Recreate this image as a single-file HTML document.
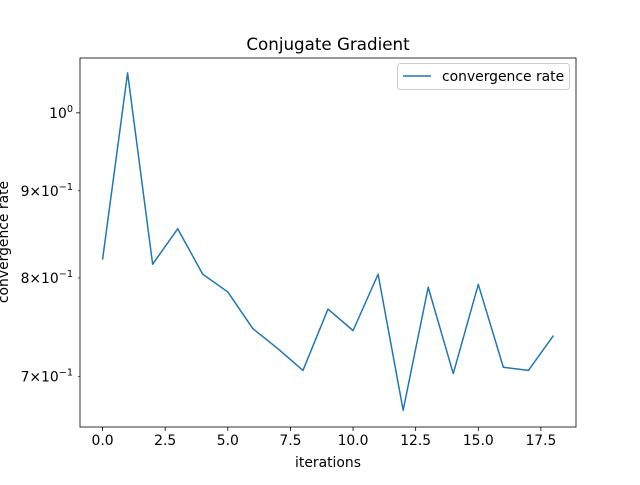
<!DOCTYPE html>
<html><head><meta charset="utf-8"><style>
body{margin:0;background:#fff;}
svg{font-family:"DejaVu Sans","Liberation Sans",sans-serif;}
</style></head><body>
<svg id="c" width="640" height="480" xmlns="http://www.w3.org/2000/svg">
<rect width="640" height="480" fill="#fff"/>
</svg>
<script>
const iterations=[0,1,2,3,4,5,6,7,8,9,10,11,12,13,14,15,16,17,18];
const rates=[0.820,1.0555,0.815,0.855,0.804,0.785,0.747,0.727,0.706,0.767,0.745,0.804,0.669,0.790,0.703,0.793,0.709,0.706,0.740];
const xTicks=[0,2.5,5,7.5,10,12.5,15,17.5];
const xTickLabels=["0.0","2.5","5.0","7.5","10.0","12.5","15.0","17.5"];
const yTicks=[1.0,0.9,0.8,0.7];
const yTickMant=["","9","8","7"];
const L=80,R=576,T=58,B=427;
const xmin=-0.9,xmax=18.9,ymin=0.654,ymax=1.077;
const sx=v=>L+(v-xmin)/(xmax-xmin)*(R-L);
const sy=v=>B-(Math.log10(v)-Math.log10(ymin))/(Math.log10(ymax)-Math.log10(ymin))*(B-T);
const svg=document.getElementById('c');
const NS='http://www.w3.org/2000/svg';
function mk(tag,attrs,parent){const e=document.createElementNS(NS,tag);for(const k in attrs)e.setAttribute(k,attrs[k]);(parent||svg).appendChild(e);return e;}
let t=mk('text',{x:328,y:50,'text-anchor':'middle','font-size':16.7,fill:'#000'});t.textContent='Conjugate Gradient';


xTicks.forEach((v,i)=>{const x=sx(v);
const l=mk('line',{x1:x,x2:x,y1:B,y2:B+4,stroke:'#000','stroke-width':0.8});


const tx=mk('text',{x:x,y:B+18,'text-anchor':'middle','font-size':13.9});tx.textContent=xTickLabels[i];

});
yTicks.forEach((v,i)=>{const y=sy(v);
const major=i===0;
const l=mk('line',{x1:L,x2:L-(major?4:2),y1:y,y2:y,stroke:'#000','stroke-width':major?0.8:0.6});


const tx=mk('text',{x:L-7,y:y+5,'text-anchor':'end','font-size':13.9});
if(major){tx.innerHTML='10<tspan dy="-6" font-size="9.7">0</tspan>';}
else{tx.innerHTML=yTickMant[i]+'\u00d710<tspan dy="-6" font-size="9.7">\u22121</tspan>';}

});
t=mk('text',{x:328,y:467,'text-anchor':'middle','font-size':13.9});t.textContent='iterations';


t=mk('text',{x:0,y:0,'text-anchor':'middle','font-size':13.9,transform:'translate(8,242) rotate(-90)'});t.textContent='convergence rate';


const p=mk('polyline',{points:iterations.map((v,i)=>sx(v)+','+sy(rates[i])).join(' '),fill:'none',stroke:'#1f77b4','stroke-width':1.5,'stroke-linejoin':'round'});


const f=mk('rect',{x:L,y:T,width:R-L,height:B-T,fill:'none',stroke:'#000','stroke-width':0.8});


const g=mk('g',{});


mk('rect',{x:397.5,y:63.5,width:172,height:26,rx:3,fill:'#fff',stroke:'#ccc'},g);
mk('line',{x1:403,x2:431,y1:76,y2:76,stroke:'#1f77b4','stroke-width':1.5},g);
const lt=mk('text',{x:442,y:81,'font-size':13.9},g);lt.textContent='convergence rate';


</script>
</body></html>
